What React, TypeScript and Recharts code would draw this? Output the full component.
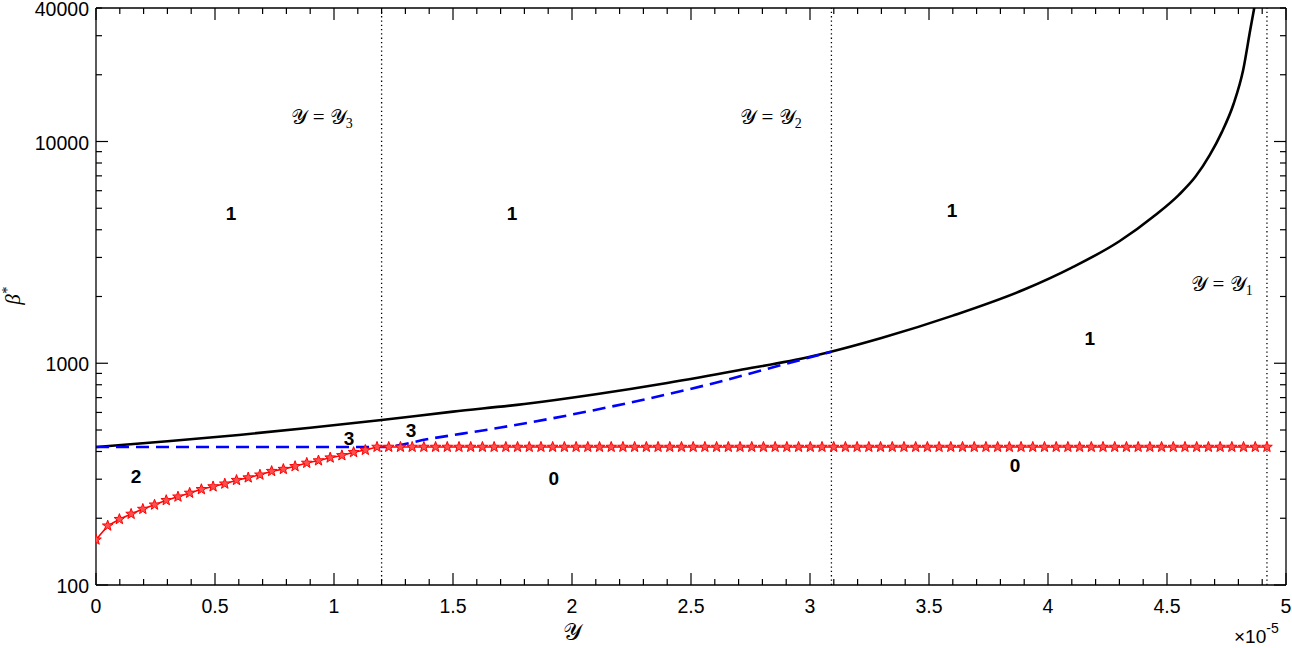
import React from 'react';
import { ComposedChart, Line, XAxis, YAxis, ReferenceLine, ReferenceDot } from 'recharts';

// ---- data ----
const blackX = [0, 0.3, 0.6, 0.9, 1.2, 1.5, 1.8, 2.1, 2.4, 2.7, 3.0, 3.3, 3.6, 3.9, 4.1, 4.3, 4.45, 4.55, 4.62, 4.68, 4.73, 4.78, 4.82, 4.85, 4.88];
const blackY = [419, 445, 475, 512, 555, 605, 655, 725, 815, 930, 1070, 1300, 1640, 2150, 2700, 3550, 4650, 5750, 6950, 8700, 11000, 14800, 21000, 32000, 48000];

const blueX = [0, 1.2, 1.4, 1.7, 2.0, 2.3, 2.6, 2.9, 3.09];
const blueY = [419, 419, 456, 513, 587, 685, 815, 995, 1127];

const redStep = 0.0492;
const redY = [
  160, 185, 198, 209, 220, 230, 241, 250, 260, 270, 278, 286, 297, 305, 314, 326, 333, 343, 355, 364, 375, 384, 397, 406, 419,
  419, 419, 419, 419, 419, 419, 419, 419, 419, 419, 419, 419, 419, 419, 419, 419, 419, 419, 419, 419,
  419, 419, 419, 419, 419, 419, 419, 419, 419, 419, 419, 419, 419, 419, 419, 419, 419, 419, 419, 419,
  419, 419, 419, 419, 419, 419, 419, 419, 419, 419, 419, 419, 419, 419, 419, 419, 419, 419, 419, 419,
  419, 419, 419, 419, 419, 419, 419, 419, 419, 419, 419, 419, 419, 419, 419, 419,
];

const xTicks = [0, 0.1, 0.2, 0.3, 0.4, 0.5, 0.6, 0.7, 0.8, 0.9, 1, 1.1, 1.2, 1.3, 1.4, 1.5, 1.6, 1.7, 1.8, 1.9, 2, 2.1, 2.2, 2.3, 2.4, 2.5, 2.6, 2.7, 2.8, 2.9, 3, 3.1, 3.2, 3.3, 3.4, 3.5, 3.6, 3.7, 3.8, 3.9, 4, 4.1, 4.2, 4.3, 4.4, 4.5, 4.6, 4.7, 4.8, 4.9, 5];
const xTickLabels = [0, 0.5, 1, 1.5, 2, 2.5, 3, 3.5, 4, 4.5, 5];
const yTicks = [100, 200, 300, 400, 500, 600, 700, 800, 900, 1000, 2000, 3000, 4000, 5000, 6000, 7000, 8000, 9000, 10000, 20000, 30000, 40000];
const yTickLabels = [100, 1000, 10000, 40000];
const yMajor = [100, 1000, 10000];

const vLines = [1.2, 3.09, 4.92];

const regionLabels = [
  { x: 0.567, y: 4765, t: '1' },
  { x: 1.748, y: 4765, t: '1' },
  { x: 3.597, y: 4910, t: '1' },
  { x: 4.176, y: 1300, t: '1' },
  { x: 0.168, y: 310, t: '2' },
  { x: 1.063, y: 460, t: '3' },
  { x: 1.324, y: 500, t: '3' },
  { x: 1.924, y: 304, t: '0' },
  { x: 3.861, y: 348, t: '0' },
];
const boundaryLabels = [
  { x: 0.95, y: 12770, sub: '3' },
  { x: 2.836, y: 12770, sub: '2' },
  { x: 4.731, y: 2255, sub: '1' },
];

const blackData = blackX.map((x, i) => ({ x, y: blackY[i] }));
const blueData = blueX.map((x, i) => ({ x, y: blueY[i] }));
const redData = redY.map((y, i) => ({ x: i * redStep, y }));

const SANS = "'Liberation Sans', Arial, Helvetica, sans-serif";
const SERIF = "'Liberation Serif', 'DejaVu Serif', 'Times New Roman', serif";
const SCRIPT_Y = '\u{1D4B4}';

const isMajorX = (v: number) => Math.abs(v * 2 - Math.round(v * 2)) < 1e-6;
const fmtX = (v: number) => String(Number(v.toFixed(2)));

const BottomTick = (props: any) => {
  const { x, y, payload } = props;
  const v = payload.value as number;
  const major = isMajorX(v);
  return (
    <g>
      <line x1={x} x2={x} y1={y} y2={y - (major ? 12 : 6)} stroke="#000" strokeWidth={1.2} />
      {xTickLabels.some((l) => Math.abs(l - v) < 1e-6) && (
        <text x={x} y={y + 28} textAnchor="middle" fontFamily={SANS} fontSize={19.5} fill="#000">
          {fmtX(v)}
        </text>
      )}
    </g>
  );
};
const TopTick = (props: any) => {
  const { x, y, payload } = props;
  const major = isMajorX(payload.value);
  return <line x1={x} x2={x} y1={y} y2={y + (major ? 12 : 6)} stroke="#000" strokeWidth={1.2} />;
};
const LeftTick = (props: any) => {
  const { x, y, payload } = props;
  const v = payload.value as number;
  const major = yMajor.includes(v);
  return (
    <g>
      <line x1={x} x2={x + (major ? 12 : 6)} y1={y} y2={y} stroke="#000" strokeWidth={1.2} />
      {yTickLabels.includes(v) && (
        <text x={x - 7} y={y + 8} textAnchor="end" fontFamily={SANS} fontSize={19.5} fill="#000">
          {v}
        </text>
      )}
    </g>
  );
};
const RightTick = (props: any) => {
  const { x, y, payload } = props;
  const major = yMajor.includes(payload.value);
  return <line x1={x} x2={x - (major ? 12 : 6)} y1={y} y2={y} stroke="#000" strokeWidth={1.2} />;
};

const StarDot = (props: any) => {
  const { cx, cy, index } = props;
  if (cx == null || cy == null) return <g key={index} />;
  const R = 5.6;
  const r = 2.3;
  const pts: string[] = [];
  for (let k = 0; k < 10; k++) {
    const rad = k % 2 === 0 ? R : r;
    const a = -Math.PI / 2 + (k * Math.PI) / 5;
    pts.push(`${cx + rad * Math.cos(a)},${cy + rad * Math.sin(a)}`);
  }
  return <polygon key={index} points={pts.join(' ')} fill="#ff5050" stroke="#ff0000" strokeWidth={1} />;
};

export default function App() {
  return (
    <div style={{ position: 'absolute', left: 0, top: 0, background: '#fff' }}>
      <ComposedChart width={1292} height={648} margin={{ top: 0, right: 0, bottom: 0, left: 0 }}>
        <XAxis
          xAxisId="b"
          dataKey="x"
          type="number"
          domain={[0, 5]}
          ticks={xTicks}
          interval={0}
          orientation="bottom"
          height={63}
          tickSize={0}
          tickMargin={0}
          tickLine={false}
          axisLine={{ stroke: '#000', strokeWidth: 1.3 }}
          tick={<BottomTick />}
          allowDataOverflow
        />
        <XAxis
          xAxisId="t"
          dataKey="x"
          type="number"
          domain={[0, 5]}
          ticks={xTicks}
          interval={0}
          orientation="top"
          height={8}
          tickSize={0}
          tickMargin={0}
          tickLine={false}
          axisLine={{ stroke: '#000', strokeWidth: 1.3 }}
          tick={<TopTick />}
          allowDataOverflow
        />
        <YAxis
          yAxisId="l"
          type="number"
          scale="log"
          domain={[100, 40000]}
          ticks={yTicks}
          interval={0}
          orientation="left"
          width={96}
          tickSize={0}
          tickMargin={0}
          tickLine={false}
          axisLine={{ stroke: '#000', strokeWidth: 1.3 }}
          tick={<LeftTick />}
          allowDataOverflow
        />
        <YAxis
          yAxisId="r"
          type="number"
          scale="log"
          domain={[100, 40000]}
          ticks={yTicks}
          interval={0}
          orientation="right"
          width={6}
          tickSize={0}
          tickMargin={0}
          tickLine={false}
          axisLine={{ stroke: '#000', strokeWidth: 1.3 }}
          tick={<RightTick />}
          allowDataOverflow
        />

        {vLines.map((v) => (
          <ReferenceLine key={v} x={v} xAxisId="b" yAxisId="l" stroke="#000" strokeWidth={1.3} strokeDasharray="1.3 3" />
        ))}

        <Line
          xAxisId="b"
          yAxisId="l"
          data={blackData}
          dataKey="y"
          type="monotone"
          stroke="#000"
          strokeWidth={2.6}
          dot={false}
          activeDot={false}
          isAnimationActive={false}
        />
        <Line
          xAxisId="b"
          yAxisId="l"
          data={blueData}
          dataKey="y"
          type="monotone"
          stroke="#0000ff"
          strokeWidth={2.6}
          strokeDasharray="13 7"
          dot={false}
          activeDot={false}
          isAnimationActive={false}
        />
        <Line
          xAxisId="b"
          yAxisId="l"
          data={redData}
          dataKey="y"
          type="linear"
          stroke="#ff0000"
          strokeWidth={1.6}
          dot={<StarDot />}
          activeDot={false}
          isAnimationActive={false}
        />

        {regionLabels.map((d, i) => (
          <ReferenceDot
            key={'r' + i}
            xAxisId="b"
            yAxisId="l"
            x={d.x}
            y={d.y}
            r={0}
            fill="none"
            stroke="none"
            label={{
              content: (p: any) => (
                <text
                  x={p.viewBox.x + (p.viewBox.width || 0) / 2}
                  y={p.viewBox.y + (p.viewBox.height || 0) / 2 + 7}
                  textAnchor="middle"
                  fontFamily={SANS}
                  fontWeight="bold"
                  fontSize={19}
                  fill="#000"
                >
                  {d.t}
                </text>
              ),
            }}
          />
        ))}
        {boundaryLabels.map((d, i) => (
          <ReferenceDot
            key={'b' + i}
            xAxisId="b"
            yAxisId="l"
            x={d.x}
            y={d.y}
            r={0}
            fill="none"
            stroke="none"
            label={{
              content: (p: any) => (
                <text
                  x={p.viewBox.x + (p.viewBox.width || 0) / 2}
                  y={p.viewBox.y + (p.viewBox.height || 0) / 2 + 6}
                  textAnchor="middle"
                  fontFamily={SERIF}
                  fontSize={21}
                  fill="#000"
                >
                  {SCRIPT_Y} = {SCRIPT_Y}
                  <tspan fontSize={14} dy={4}>{d.sub}</tspan>
                </text>
              ),
            }}
          />
        ))}

        <text x={572} y={640} textAnchor="middle" fontFamily={SERIF} fontSize={24} fill="#000">
          {SCRIPT_Y}
        </text>
        <text x={1234} y={643} fontFamily={SANS} fontSize={19} fill="#000">
          ×10
          <tspan fontSize={14} dy={-10}>-5</tspan>
        </text>
        <text
          x={0}
          y={0}
          transform="translate(20,296) rotate(-90)"
          textAnchor="middle"
          fontFamily={SERIF}
          fontStyle="italic"
          fontSize={21}
          fill="#000"
        >
          β<tspan fontSize={14} dy={-8}>*</tspan>
        </text>
      </ComposedChart>
    </div>
  );
}
